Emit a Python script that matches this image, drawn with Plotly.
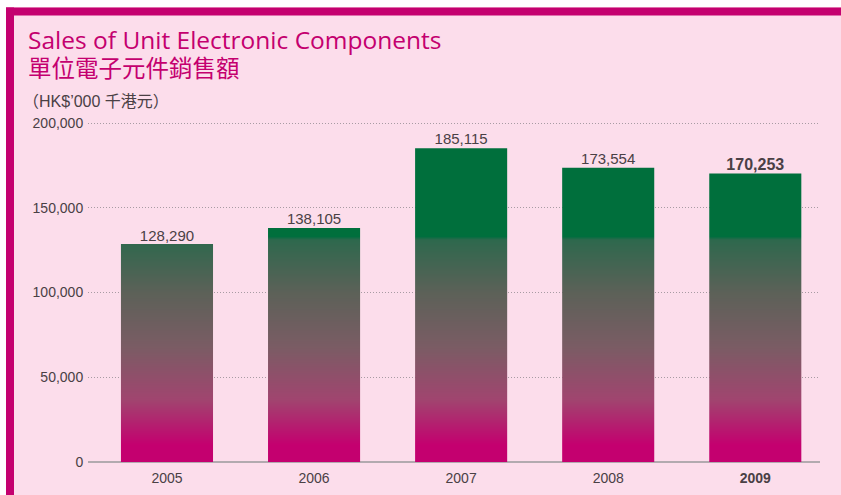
import plotly.graph_objects as go

# Sales of unit electronic components, HK$'000
years = ["2005", "2006", "2007", "2008", "2009"]
sales = [128290, 138105, 185115, 173554, 170253]
tick_labels = ["2005", "2006", "2007", "2008", "<b>2009</b>"]
value_labels = ["128,290", "138,105", "185,115", "173,554",
                '<b><span style="font-size:16px">170,253</span></b>']

W, H = 841, 495
ML, MR, MT, MB = 88, 21, 118, 33
PW, PH = W - ML - MR, H - MT - MB
PX_PER_UNIT = 339 / 200000          # 200,000 sits 339 px above the baseline

PINK = "#FCDDEB"
MAGENTA = "#C4006F"
TEXT = "#4A4045"
FONT = "Liberation Sans, Arial, sans-serif"
TITLE_FONT = "Open Sans, Noto Sans CJK TC, sans-serif"

# colour stops of the vertical gradient, keyed by value on the y axis
stops = [
    (0, (196, 0, 111)),
    (10000, (196, 0, 111)),
    (37000, (160, 69, 111)),
    (68000, (122, 92, 100)),
    (100000, (92, 97, 88)),
    (131000, (46, 104, 77)),
    (133000, (0, 110, 62)),
    (200000, (0, 112, 58)),
]


def colour_at(v):
    for (v0, c0), (v1, c1) in zip(stops[:-1], stops[1:]):
        if v0 <= v <= v1:
            t = (v - v0) / (v1 - v0) if v1 > v0 else 0
            r, g, b = (round(a + (b_ - a) * t) for a, b_ in zip(c0, c1))
            return f"rgb({r},{g},{b})"
    return f"rgb{stops[-1][1]}"


def px_x(p):
    return (p - ML) / PW


def px_y(p):
    return (H - MB - p) / PH


fig = go.Figure()

# bands one pixel tall so edges land on whole pixels
step = 1 / PX_PER_UNIT
bands = [(0, 17 * step)]
k = 17
while k * step < 133000:
    bands.append((k * step, (k + 1) * step))
    k += 1
bands.append((k * step, 210000))

for lo, hi in bands:
    heights = [max(0, min(v, hi) - lo) for v in sales]
    fig.add_trace(go.Bar(
        x=years, y=heights, base=[lo] * len(sales),
        width=0.626,
        marker=dict(color=colour_at((lo + hi) / 2), line=dict(width=0)),
        hoverinfo="skip", showlegend=False,
    ))

# value labels above each bar
fig.add_trace(go.Scatter(
    x=years, y=sales, mode="text", text=value_labels,
    textposition="top center",
    textfont=dict(family=FONT, size=15, color=TEXT),
    hoverinfo="skip", showlegend=False, cliponaxis=False,
))

shapes = [
    dict(type="rect", xref="paper", yref="paper", layer="below",
         x0=px_x(6), x1=px_x(W + 2), y0=px_y(7), y1=px_y(H + 2),
         fillcolor=PINK, line=dict(width=0)),
    dict(type="rect", xref="paper", yref="paper", layer="below",
         x0=px_x(6), x1=px_x(W + 2), y0=px_y(7.5), y1=px_y(15.5),
         fillcolor=MAGENTA, line=dict(width=0)),
    dict(type="rect", xref="paper", yref="paper", layer="below",
         x0=px_x(6), x1=px_x(14), y0=px_y(7.5), y1=px_y(H + 2),
         fillcolor=MAGENTA, line=dict(width=0)),
]

title_text = ('<span style="font-size:24.5px">Sales of Unit Electronic Components</span>'
              '<br><span style="font-size:23.5px">單位電子元件銷售額</span>')

annotations = [
    dict(text=title_text, xref="paper", yref="paper", align="left",
         x=px_x(26), y=px_y(21), xanchor="left", yanchor="top", showarrow=False,
         font=dict(family=TITLE_FONT, size=21.5, color=MAGENTA)),
    dict(text="（HK$’000 千港元）", xref="paper", yref="paper",
         x=px_x(21), y=px_y(102), xanchor="left", yanchor="middle", showarrow=False,
         font=dict(family="Liberation Sans, Noto Sans CJK TC", size=16, color=TEXT)),
]

fig.update_layout(
    width=W, height=H,
    margin=dict(l=ML, r=MR, t=MT, b=MB, pad=0, autoexpand=False),
    paper_bgcolor="white", plot_bgcolor="rgba(0,0,0,0)",
    barmode="overlay", bargap=0.374,
    shapes=shapes, annotations=annotations,
    xaxis=dict(
        type="category", range=[-0.537, 4.44], automargin=False,
        tickvals=years, ticktext=tick_labels,
        ticks="outside", ticklen=3, tickcolor="rgba(0,0,0,0)",
        tickfont=dict(family=FONT, size=14, color=TEXT),
        showgrid=False, showline=False, zeroline=False, fixedrange=True,
    ),
    yaxis=dict(
        range=[0, PH / PX_PER_UNIT], automargin=False,
        tickvals=[0, 50000, 100000, 150000, 200000],
        ticktext=["0", "50,000", "100,000", "150,000", "200,000"],
        ticks="outside", ticklen=1, tickcolor="rgba(0,0,0,0)",
        tickfont=dict(family=FONT, size=14, color=TEXT),
        showgrid=True, gridcolor="#A89BA3", griddash="1px,2px", gridwidth=1,
        zeroline=True, zerolinecolor="#B2AAAF", zerolinewidth=2,
        showline=False, fixedrange=True,
    ),
)

fig.write_html("out.html")
